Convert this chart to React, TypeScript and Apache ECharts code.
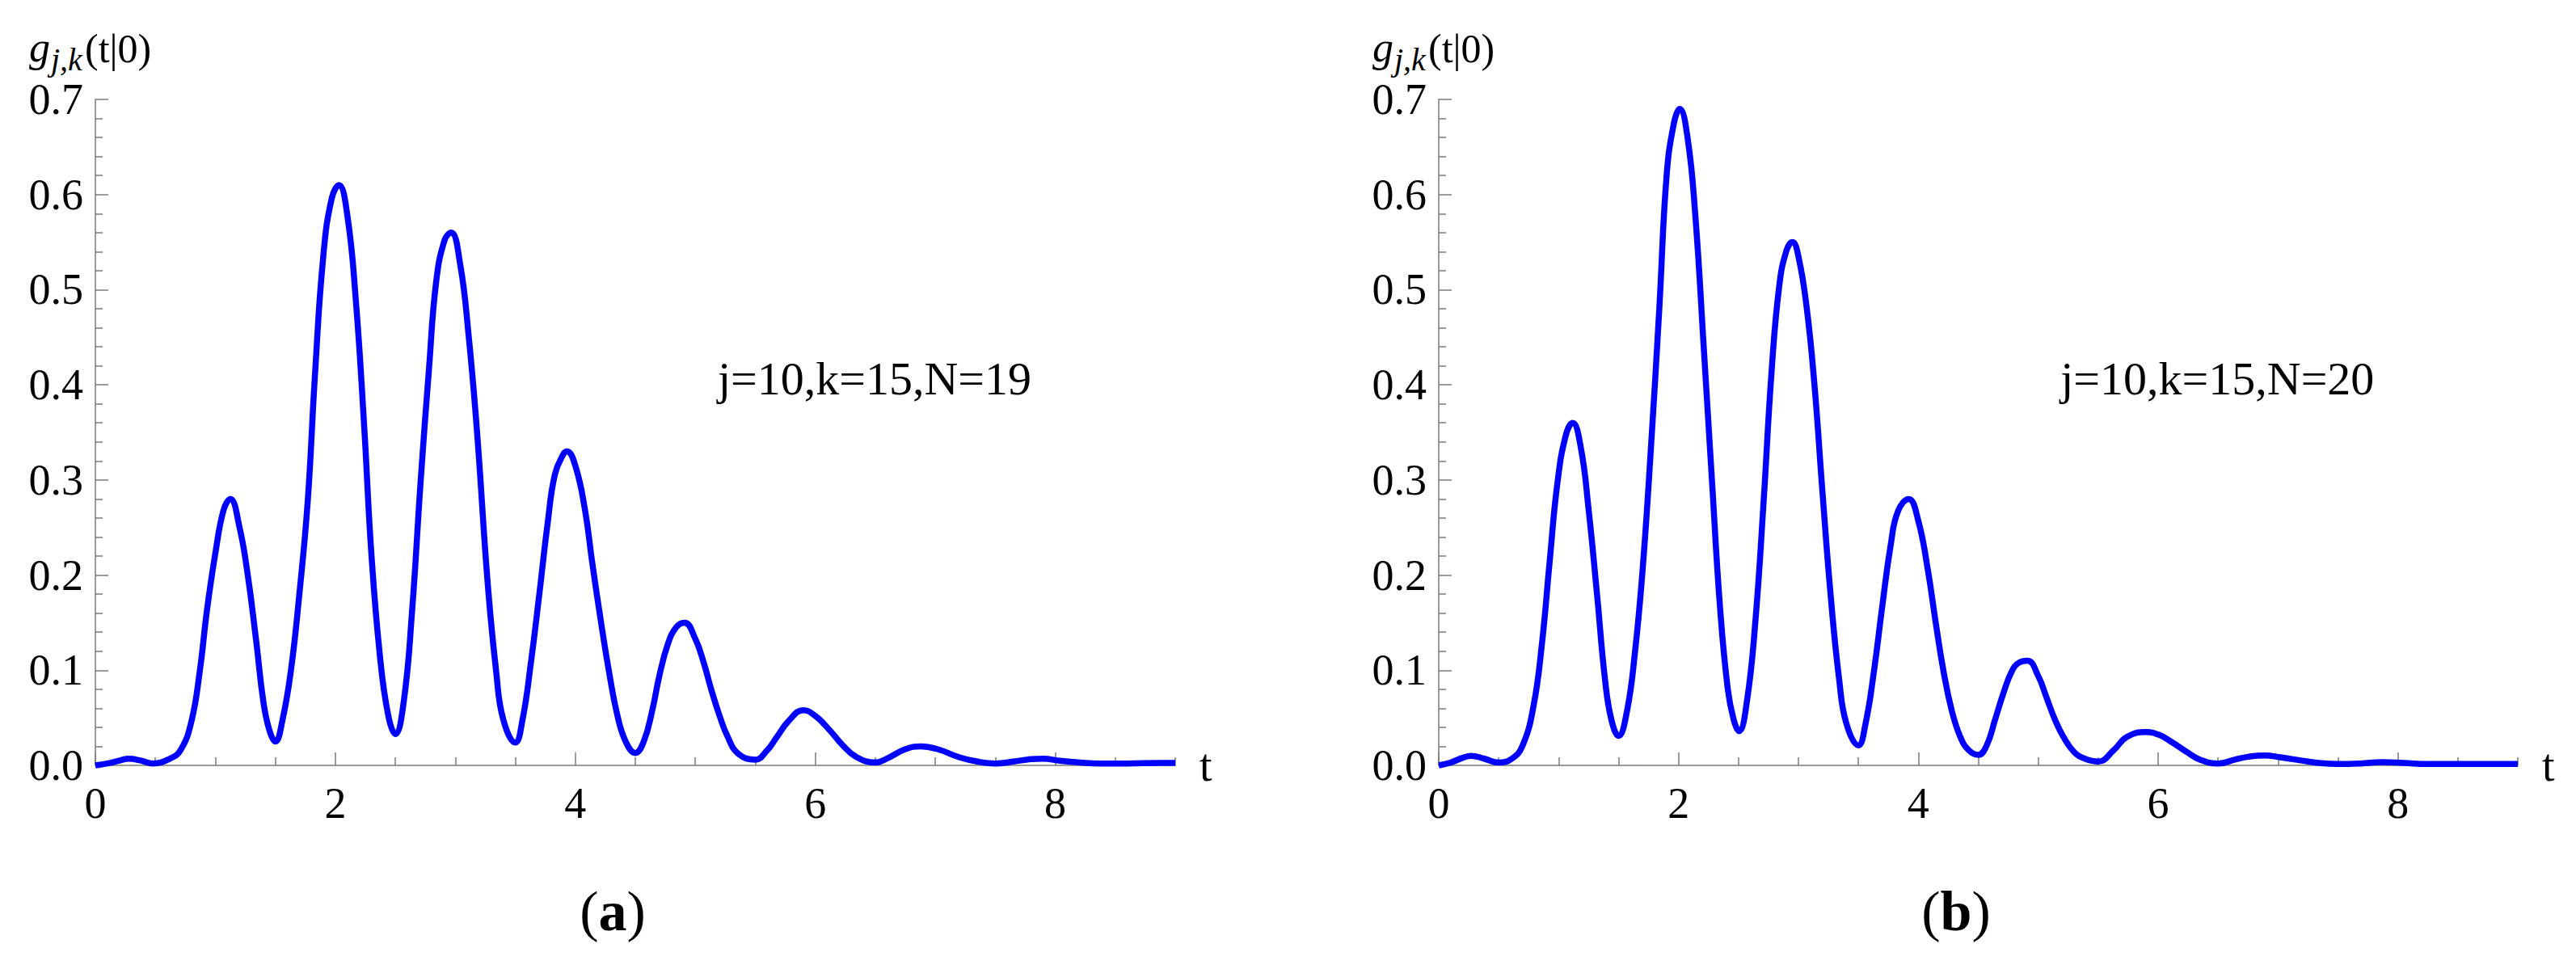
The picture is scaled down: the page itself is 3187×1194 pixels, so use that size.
import React, { useEffect, useRef } from "react";
import * as echarts from "echarts";

// g_{j,k}(t|0): j=10, k=15, N=19
const curveA: [number, number][] = [
  [0, 0], [0.1, 0.002], [0.2, 0.005], [0.28, 0.007], [0.38, 0.005], [0.48, 0.002],
  [0.62, 0.007], [0.71, 0.016], [0.8, 0.046], [0.87, 0.099], [0.93, 0.163], [1.0, 0.223],
  [1.07, 0.269], [1.125, 0.28], [1.2, 0.251], [1.27, 0.2], [1.34, 0.131], [1.4, 0.067],
  [1.45, 0.037], [1.5, 0.025], [1.56, 0.048], [1.63, 0.1], [1.7, 0.18], [1.77, 0.278],
  [1.83, 0.41], [1.9, 0.536], [1.97, 0.596], [2.03, 0.61], [2.1, 0.578], [2.17, 0.49],
  [2.24, 0.357], [2.3, 0.223], [2.37, 0.117], [2.44, 0.053], [2.5, 0.033], [2.57, 0.067],
  [2.64, 0.163], [2.71, 0.297], [2.78, 0.416], [2.84, 0.508], [2.91, 0.552], [2.965, 0.56],
  [3.04, 0.527], [3.11, 0.453], [3.18, 0.352], [3.27, 0.191], [3.34, 0.099], [3.4, 0.048],
  [3.5, 0.024], [3.56, 0.048], [3.63, 0.108], [3.7, 0.18], [3.77, 0.255], [3.83, 0.306],
  [3.9, 0.327], [3.93, 0.33], [4.0, 0.315], [4.08, 0.269], [4.14, 0.214], [4.21, 0.154],
  [4.28, 0.099], [4.35, 0.053], [4.42, 0.025], [4.5, 0.013], [4.57, 0.025], [4.64, 0.057],
  [4.7, 0.094], [4.77, 0.127], [4.84, 0.145], [4.91, 0.15], [5.0, 0.133], [5.07, 0.108],
  [5.13, 0.081], [5.2, 0.053], [5.27, 0.03], [5.36, 0.012], [5.5, 0.006], [5.6, 0.016],
  [5.67, 0.028], [5.78, 0.047], [5.9, 0.058], [6.0, 0.052], [6.12, 0.037], [6.23, 0.021],
  [6.34, 0.009], [6.5, 0.003], [6.61, 0.008], [6.75, 0.017], [6.88, 0.02], [7.02, 0.017],
  [7.2, 0.0085], [7.35, 0.004], [7.5, 0.002], [7.65, 0.004], [7.8, 0.0065], [7.9, 0.007],
  [8.03, 0.005], [8.21, 0.003], [8.37, 0.002], [8.6, 0.002], [8.87, 0.0025], [9.0, 0.0025],
];

// g_{j,k}(t|0): j=10, k=15, N=20
const curveB: [number, number][] = [
  [0, 0], [0.1, 0.003], [0.2, 0.008], [0.27, 0.01], [0.38, 0.007], [0.5, 0.003],
  [0.61, 0.007], [0.7, 0.021], [0.79, 0.062], [0.86, 0.127], [0.925, 0.214], [0.99, 0.297],
  [1.06, 0.347], [1.117, 0.36], [1.185, 0.334], [1.25, 0.269], [1.32, 0.18], [1.387, 0.09],
  [1.44, 0.048], [1.5, 0.031], [1.57, 0.057], [1.635, 0.117], [1.7, 0.205], [1.77, 0.334],
  [1.84, 0.481], [1.9, 0.619], [1.96, 0.674], [2.01, 0.69], [2.075, 0.66], [2.14, 0.578],
  [2.21, 0.44], [2.28, 0.297], [2.345, 0.168], [2.41, 0.081], [2.46, 0.048], [2.505, 0.036],
  [2.57, 0.067], [2.64, 0.15], [2.71, 0.278], [2.775, 0.412], [2.84, 0.504], [2.9, 0.541],
  [2.95, 0.55], [3.0, 0.535], [3.07, 0.48], [3.135, 0.398], [3.2, 0.288], [3.27, 0.177],
  [3.34, 0.09], [3.4, 0.044], [3.5, 0.021], [3.56, 0.044], [3.63, 0.099], [3.7, 0.168],
  [3.77, 0.232], [3.83, 0.267], [3.92, 0.28], [4.0, 0.257], [4.08, 0.205],
  [4.145, 0.15], [4.21, 0.099], [4.28, 0.057], [4.35, 0.03], [4.42, 0.016], [4.5, 0.011],
  [4.57, 0.021], [4.64, 0.048], [4.71, 0.076], [4.78, 0.099], [4.84, 0.108], [4.91, 0.11],
  [5.0, 0.094], [5.07, 0.071], [5.14, 0.048], [5.21, 0.03], [5.3, 0.014], [5.39, 0.007],
  [5.5, 0.004], [5.63, 0.016], [5.74, 0.03], [5.9, 0.035], [6.01, 0.032], [6.12, 0.024],
  [6.24, 0.014], [6.35, 0.006], [6.5, 0.002], [6.64, 0.006], [6.75, 0.009], [6.89, 0.0105],
  [7.02, 0.0085], [7.2, 0.005], [7.36, 0.0023], [7.5, 0.0014], [7.69, 0.002], [7.87, 0.0034],
  [8.05, 0.0025], [8.25, 0.0014], [8.6, 0.0014], [9.0, 0.0014],
];

const xMajorTicks = [0, 2, 4, 6, 8];
const xMinorTicks = [0.5, 1, 1.5, 2.5, 3, 3.5, 4.5, 5, 5.5, 6.5, 7, 7.5, 8.5, 9];
const paramLabels = ["j=10,k=15,N=19", "j=10,k=15,N=20"];
const panelLetters = ["a", "b"];

const FONT = "Liberation Serif";
const AXIS_GRAY = "#7a7a7a";

const panels = [
  { left: 118, width: 1336, data: curveA },
  { left: 1780, width: 1335, data: curveB },
];
const GRID_TOP = 123;
const GRID_H = 824;

const serif = (size: number, extra: any = {}) => ({
  fontFamily: FONT,
  fontSize: size,
  color: "#000",
  fill: "#000",
  ...extra,
});

export default function App() {
  const ref = useRef<HTMLDivElement>(null);

  useEffect(() => {
    if (!ref.current) return;
    const chart = echarts.init(ref.current, undefined, { renderer: "svg" });

    const grid: any[] = [];
    const xAxis: any[] = [];
    const yAxis: any[] = [];
    const series: any[] = [];
    const graphic: any[] = [];

    panels.forEach((p, i) => {
      grid.push({ left: p.left, top: GRID_TOP, width: p.width, height: GRID_H, containLabel: false });
      xAxis.push({
        type: "value",
        gridIndex: i,
        position: "bottom",
        min: 0,
        max: 9,
        axisLine: { show: true, lineStyle: { color: AXIS_GRAY, width: 1.5 } },
        axisTick: {
          show: true,
          inside: true,
          length: 16,
          customValues: xMajorTicks,
          lineStyle: { color: AXIS_GRAY, width: 1.5 },
        },
        axisLabel: {
          show: true,
          customValues: xMajorTicks,
          margin: 20,
          fontFamily: FONT,
          fontSize: 54,
          color: "#000",
          formatter: (v: number) => "{s|" + String(v) + "}",
          rich: { s: serif(54) },
        },
        splitLine: { show: false },
        name: "{s|t}",
        nameLocation: "end",
        nameGap: 30,
        nameTextStyle: { fontFamily: FONT, fontSize: 56, color: "#000", rich: { s: serif(56) } },
      });
      xAxis.push({
        type: "value",
        gridIndex: i,
        position: "bottom",
        min: 0,
        max: 9,
        axisLine: { show: false },
        axisTick: {
          show: true,
          inside: true,
          length: 10,
          customValues: xMinorTicks,
          lineStyle: { color: AXIS_GRAY, width: 1.5 },
        },
        axisLabel: { show: false },
        splitLine: { show: false },
      });
      yAxis.push({
        type: "value",
        gridIndex: i,
        min: 0,
        max: 0.7,
        interval: 0.1,
        axisLine: { show: true, lineStyle: { color: AXIS_GRAY, width: 1.5 } },
        axisTick: { show: true, inside: true, length: 16, lineStyle: { color: AXIS_GRAY, width: 1.5 } },
        minorTick: { show: true, splitNumber: 5, length: 9, lineStyle: { color: AXIS_GRAY, width: 1.5 } },
        axisLabel: {
          margin: 15,
          fontFamily: FONT,
          fontSize: 54,
          color: "#000",
          formatter: (v: number) => "{s|" + v.toFixed(1) + "}",
          rich: { s: serif(54) },
        },
        splitLine: { show: false },
        minorSplitLine: { show: false },
      });
      series.push({
        type: "line",
        xAxisIndex: i * 2,
        yAxisIndex: i,
        data: p.data,
        showSymbol: false,
        smooth: 0.45,
        clip: false,
        lineStyle: { color: "#0000ff", width: 7.5 },
        z: 5,
      });

      const ax = p.left;
      // y-axis title g_{j,k}(t|0)
      graphic.push({
        type: "text",
        x: ax - 82,
        y: 58,
        style: {
          text: "{g|g}",
          fontFamily: FONT,
          fontSize: 52,
          verticalAlign: "middle",
          align: "left",
          rich: { g: serif(52, { fontStyle: "italic" }) },
        },
      });
      graphic.push({
        type: "text",
        x: ax - 55,
        y: 73,
        style: {
          text: "{s|j,k}",
          fontFamily: FONT,
          fontSize: 40,
          verticalAlign: "middle",
          align: "left",
          rich: { s: serif(40, { fontStyle: "italic" }) },
        },
      });
      graphic.push({
        type: "text",
        x: ax - 13,
        y: 60,
        style: {
          text: "{s|(t|0)}",
          fontFamily: FONT,
          fontSize: 50,
          verticalAlign: "middle",
          align: "left",
          rich: { s: serif(50) },
        },
      });
      // parameter label
      graphic.push({
        type: "text",
        x: ax + 964 * (p.width / 1336),
        y: 468,
        style: {
          text: "{s|" + paramLabels[i] + "}",
          fontFamily: FONT,
          fontSize: 58,
          verticalAlign: "middle",
          align: "center",
          rich: { s: serif(58) },
        },
      });
      // panel letter
      graphic.push({
        type: "text",
        x: ax + 640,
        y: 1127,
        style: {
          text: "({b|" + panelLetters[i] + "})",
          fontSize: 70,
          fontFamily: FONT,
          fill: "#000",
          verticalAlign: "middle",
          align: "center",
          rich: { b: serif(70, { fontWeight: "bold" }) },
        },
      });
    });

    chart.setOption({
      animation: false,
      backgroundColor: "#ffffff",
      textStyle: { fontFamily: FONT },
      grid,
      xAxis,
      yAxis,
      series,
      graphic,
    });

    return () => chart.dispose();
  }, []);

  return (
    <div
      ref={ref}
      style={{ position: "absolute", left: 0, top: 0, width: 3187, height: 1194, background: "#fff" }}
    />
  );
}
